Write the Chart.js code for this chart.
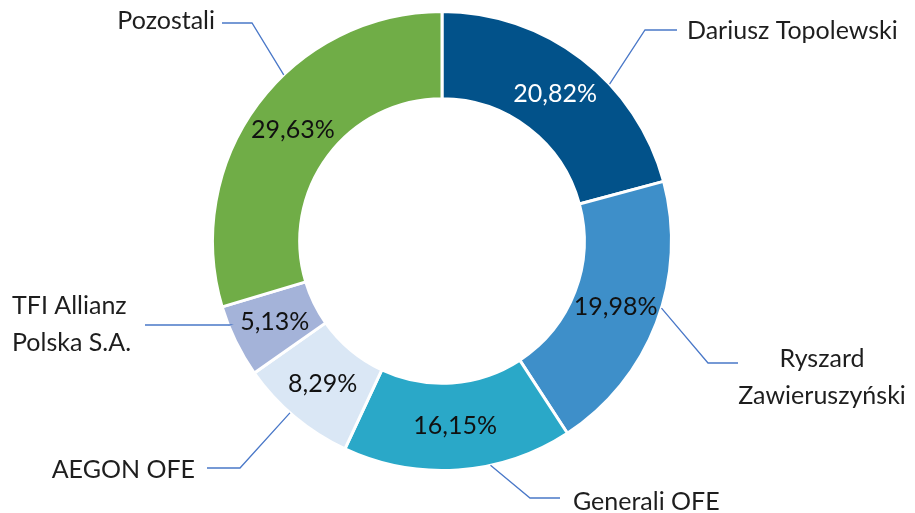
<!DOCTYPE html>
<html>
<head>
<meta charset="utf-8">
<script src="https://cdn.jsdelivr.net/npm/chart.js@4.4.0/dist/chart.umd.min.js"></script>
<style>
  html, body { margin: 0; padding: 0; background: #fff; }
  #wrap { width: 915px; height: 513px; position: relative; }
</style>
</head>
<body>
<div id="wrap"><canvas id="donut"></canvas></div>
<script>
// data
var names = ["Dariusz Topolewski", "Ryszard Zawieruszyński", "Generali OFE", "AEGON OFE", "TFI Allianz Polska S.A.", "Pozostali"];
var shares = [20.82, 19.98, 16.15, 8.29, 5.13, 29.63];

// how the names are broken into lines
var nameLines = [
  ["Dariusz Topolewski"],
  ["Ryszard", "Zawieruszyński"],
  ["Generali OFE"],
  ["AEGON OFE"],
  ["TFI Allianz", "Polska S.A."],
  ["Pozostali"]
];

var sliceColors = ["#02528a", "#3e8fc9", "#2aa8c8", "#dae7f5", "#a4b3d9", "#70ad47"];
var pctColors = ["#ffffff", "#111111", "#111111", "#111111", "#111111", "#111111"];

// leader lines, offsets from the doughnut centre (px); angle in degrees clockwise from top
var leaders = [
  { angle: 46.9,  elbow: [203, -211], end: [235, -211], text: [245, -210], align: "left" },
  { angle: 107,   elbow: [266, 122],  end: [296, 122],  text: [380, 118],  align: "center" },
  { angle: 167.8, elbow: [88, 257],   end: [118, 257],  text: [131, 261],  align: "left" },
  { angle: 221.5, elbow: [-202, 227], end: [-235, 227], text: [-247, 229], align: "right" },
  { angle: 248.4, elbow: [-212, 84],  end: [-297, 84],  text: [-430, 65],  align: "left" },
  { angle: 316.4, elbow: [-190, -218], end: [-220, -218], text: [-227, -220], align: "right" }
];

var FONT = "Lato, 'Open Sans', sans-serif";

function fmt(v) {
  return v.toFixed(2).replace(".", ",") + "%";
}

var labelPlugin = {
  id: "sliceLabels",
  afterDatasetsDraw: function (chart) {
    var ctx = chart.ctx;
    var meta = chart.getDatasetMeta(0);
    ctx.save();
    meta.data.forEach(function (arc, i) {
      // percentage inside the ring
      var p = arc.getCenterPoint();
      ctx.font = "25px " + FONT;
      ctx.fillStyle = pctColors[i];
      ctx.textAlign = "center";
      ctx.textBaseline = "middle";
      ctx.fillText(fmt(shares[i]), p.x, p.y);

      // leader line
      var L = leaders[i];
      var a = L.angle * Math.PI / 180;
      var sx = arc.x + Math.sin(a) * arc.outerRadius;
      var sy = arc.y - Math.cos(a) * arc.outerRadius;
      ctx.strokeStyle = "#4a78c8";
      ctx.lineWidth = 1.3;
      ctx.beginPath();
      ctx.moveTo(sx, sy);
      ctx.lineTo(arc.x + L.elbow[0], arc.y + L.elbow[1]);
      ctx.lineTo(arc.x + L.end[0], arc.y + L.end[1]);
      ctx.stroke();

      // category name
      ctx.font = "25px " + FONT;
      ctx.fillStyle = "#1e1e1e";
      ctx.textAlign = L.align;
      nameLines[i].forEach(function (line, k) {
        ctx.fillText(line, arc.x + L.text[0], arc.y + L.text[1] + k * 37);
      });
    });
    ctx.restore();
  }
};

new Chart(document.getElementById("donut"), {
  type: "doughnut",
  data: {
    labels: names,
    datasets: [{
      data: shares,
      backgroundColor: sliceColors,
      borderColor: "#ffffff",
      borderWidth: 3,
      hoverOffset: 0
    }]
  },
  options: {
    responsive: true,
    maintainAspectRatio: false,
    animation: false,
    cutout: "62%",
    layout: { padding: { top: 10, bottom: 41, left: 0, right: 31 } },
    plugins: {
      legend: { display: false },
      tooltip: { enabled: false }
    }
  },
  plugins: [labelPlugin]
});
</script>
</body>
</html>
